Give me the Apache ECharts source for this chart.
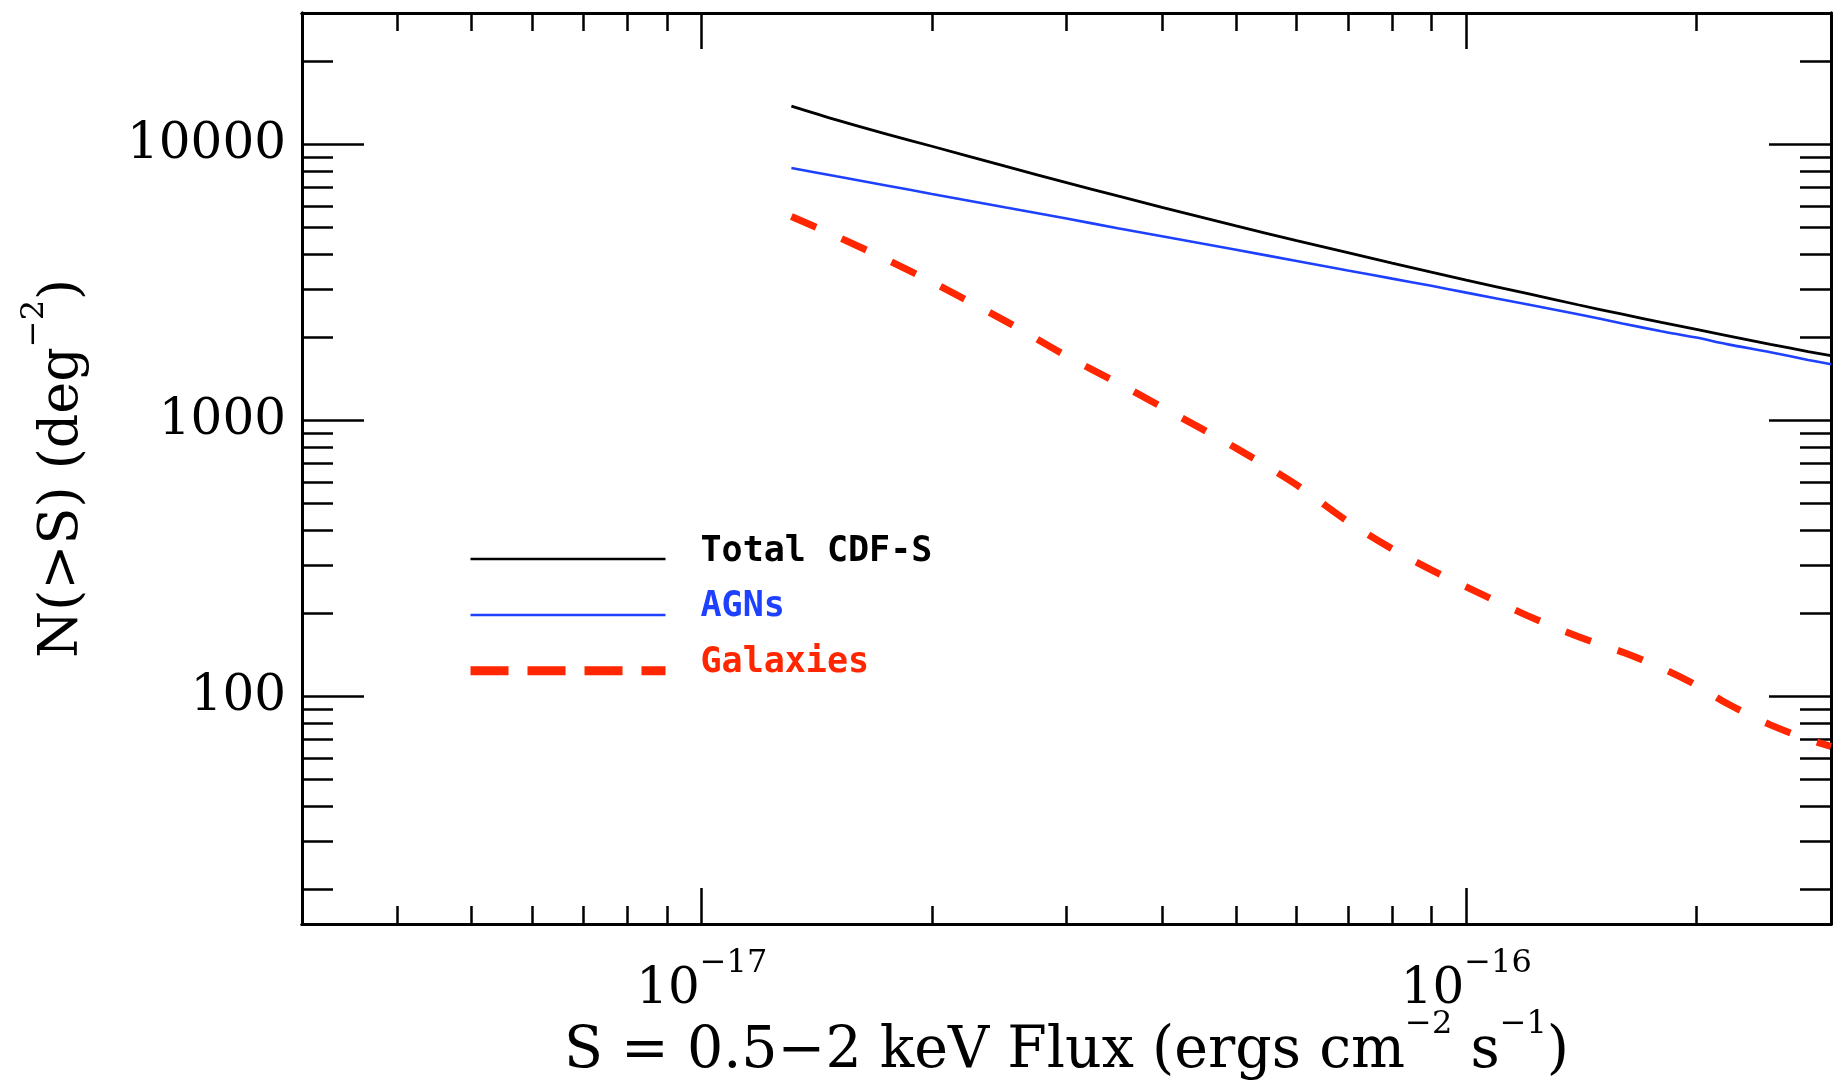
<!DOCTYPE html>
<html>
<head>
<meta charset="utf-8">
<script src="https://cdn.jsdelivr.net/npm/echarts@6/dist/echarts.min.js"></script>
<style>
  html, body { margin: 0; padding: 0; background: #ffffff; }
  #chart { width: 1848px; height: 1080px; }
</style>
</head>
<body>
<div id="chart"></div>
<script>
// Cumulative number counts N(>S) in the 0.5-2 keV band, CDF-S
const flux = [1.31e-17, 1.5e-17, 1.75e-17, 2e-17, 2.5e-17, 3e-17, 3.5e-17, 4e-17, 5e-17, 6e-17,
              7e-17, 8e-17, 9e-17, 1e-16, 1.2e-16, 1.4e-16, 1.6e-16, 1.8e-16, 2e-16, 2.2e-16,
              2.5e-16, 2.8e-16, 3e-16];
const totalCounts = [13800, 12300, 10900, 9870, 8340, 7290, 6520, 5930, 5080, 4490,
                     4060, 3720, 3450, 3230, 2890, 2630, 2430, 2270, 2140, 2030,
                     1890, 1780, 1720];
const agnCounts = [8230, 7680, 7100, 6630, 5920, 5400, 4980, 4660, 4160, 3790,
                   3500, 3270, 3080, 2910, 2640, 2430, 2250, 2110, 2000, 1890,
                   1770, 1660, 1600];
const galaxyCounts = [5490, 4660, 3820, 3180, 2290, 1715, 1370, 1120, 795, 585,
                      431, 343, 288, 250, 197, 165, 145, 127, 110, 94,
                      79, 70, 66];

const seriesNames = ['Total CDF-S', 'AGNs', 'Galaxies'];
const xRange = [3e-18, 3e-16];
const yRange = [15, 30000];
const xMajorTicks = [1e-17, 1e-16];
const yMajorTicks = [100, 1000, 10000];

const BLACK = '#000000';
const BLUE = '#1e40ff';
const RED = '#ff2600';
const SERIF = 'DejaVu Serif';
const MONO = 'DejaVu Sans Mono';

// 2..9 x 10^n ticks strictly inside the range
function minorTicks(lo, hi) {
  const out = [];
  for (let e = Math.floor(Math.log10(lo)); e <= Math.ceil(Math.log10(hi)); e++) {
    for (let m = 2; m <= 9; m++) {
      const v = parseFloat((m * Math.pow(10, e)).toPrecision(6));
      if (v > lo * 1.0001 && v < hi * 0.9999) out.push(v);
    }
  }
  return out;
}

// main text token plus a raised superscript token
const richLabel = (big, lh) => ({
  b: { fontFamily: SERIF, fontSize: big, lineHeight: lh, verticalAlign: 'bottom', color: BLACK },
  s: { fontFamily: SERIF, fontSize: 32, lineHeight: 32, verticalAlign: 'top', color: BLACK }
});

function makeAxis(kind, position, ticks, tickLen, extra) {
  const range = kind === 'x' ? xRange : yRange;
  return Object.assign({
    type: 'log',
    logBase: 10,
    position: position,
    min: range[0],
    max: range[1],
    gridIndex: 0,
    axisLine: { show: true, onZero: false, lineStyle: { color: BLACK, width: 3 } },
    axisTick: { show: true, inside: true, length: tickLen, customValues: ticks,
                lineStyle: { color: BLACK, width: 2.5 } },
    axisLabel: { show: false },
    splitLine: { show: false },
    minorTick: { show: false },
    minorSplitLine: { show: false }
  }, extra || {});
}

const xMinor = minorTicks(xRange[0], xRange[1]);
const yMinor = minorTicks(yRange[0], yRange[1]);

const xAxes = [
  makeAxis('x', 'bottom', xMajorTicks, 36, {
    axisLabel: {
      show: true,
      customValues: xMajorTicks,
      margin: 24,
      formatter: v => '{b|10}{s|\u2212' + Math.round(-Math.log10(v)) + '}',
      rich: richLabel(50, 67)
    },
    name: '{b|S = 0.5\u22122 keV Flux (ergs cm}{s|\u22122}{b| s}{s|\u22121}{b|)}',
    nameLocation: 'middle',
    nameGap: 85,
    nameMoveOverlap: false,
    nameTextStyle: { rich: richLabel(57, 72) }
  }),
  makeAxis('x', 'bottom', xMinor, 18),
  makeAxis('x', 'top', xMajorTicks, 36),
  makeAxis('x', 'top', xMinor, 18)
];

const yAxes = [
  makeAxis('y', 'left', yMajorTicks, 62, {
    axisLabel: {
      show: true,
      customValues: yMajorTicks,
      margin: 16,
      padding: [9, 0, 0, 0],
      formatter: v => String(Math.round(v)),
      fontFamily: SERIF,
      fontSize: 50,
      color: BLACK
    },
    name: '{b|N(>S) (deg}{s|\u22122}{b|)}',
    nameLocation: 'middle',
    nameGap: 212,
    nameMoveOverlap: false,
    nameTextStyle: { rich: richLabel(54, 71) }
  }),
  makeAxis('y', 'left', yMinor, 31),
  makeAxis('y', 'right', yMajorTicks, 62),
  makeAxis('y', 'right', yMinor, 31)
];

function pairs(values) {
  return flux.map((s, i) => [s, values[i]]);
}

function legendItem(name, color, width, dash) {
  return {
    name: name,
    textStyle: { color: color, rich: { t: { color: color } } },
    itemStyle: { opacity: 0 },
    lineStyle: { width: width, color: color, type: dash }
  };
}

const chart = echarts.init(document.getElementById('chart'), null, { renderer: 'canvas' });

chart.setOption({
  animation: false,
  backgroundColor: '#ffffff',
  textStyle: { fontFamily: SERIF, color: BLACK },
  grid: { left: 302, top: 13, width: 1529, height: 911, containLabel: false, outerBoundsMode: 'none' },
  xAxis: xAxes,
  yAxis: yAxes,
  legend: {
    orient: 'vertical',
    left: 466,
    top: 534,
    padding: 0,
    itemWidth: 195,
    itemHeight: 10,
    itemGap: 14.9,
    selectedMode: false,
    // a short empty second row lifts each label slightly above its sample line
    formatter: name => '{t|' + name + '}\n{g| }',
    textStyle: {
      fontFamily: MONO,
      fontWeight: 'bold',
      fontSize: 35,
      padding: [0, 0, 0, 30],
      rich: {
        t: { fontFamily: MONO, fontWeight: 'bold', fontSize: 35, lineHeight: 22 },
        g: { fontFamily: MONO, fontSize: 10, lineHeight: 15 }
      }
    },
    data: [
      legendItem(seriesNames[0], BLACK, 2.5, 'solid'),
      legendItem(seriesNames[1], BLUE, 2.5, 'solid'),
      legendItem(seriesNames[2], RED, 9, [38, 19])
    ]
  },
  series: [
    {
      name: seriesNames[0], type: 'line', xAxisIndex: 0, yAxisIndex: 0,
      data: pairs(totalCounts), symbol: 'none', showSymbol: false, smooth: 0.3,
      lineStyle: { color: BLACK, width: 2.8 }, itemStyle: { color: BLACK }, z: 4
    },
    {
      name: seriesNames[1], type: 'line', xAxisIndex: 0, yAxisIndex: 0,
      data: pairs(agnCounts), symbol: 'none', showSymbol: false, smooth: 0.3,
      lineStyle: { color: BLUE, width: 2.6 }, itemStyle: { color: BLUE }, z: 3
    },
    {
      name: seriesNames[2], type: 'line', xAxisIndex: 0, yAxisIndex: 0,
      data: pairs(galaxyCounts), symbol: 'none', showSymbol: false, smooth: 0.3,
      lineStyle: { color: RED, width: 7, type: [27, 28], cap: 'butt' }, itemStyle: { color: RED }, z: 2
    }
  ]
});
</script>
</body>
</html>
